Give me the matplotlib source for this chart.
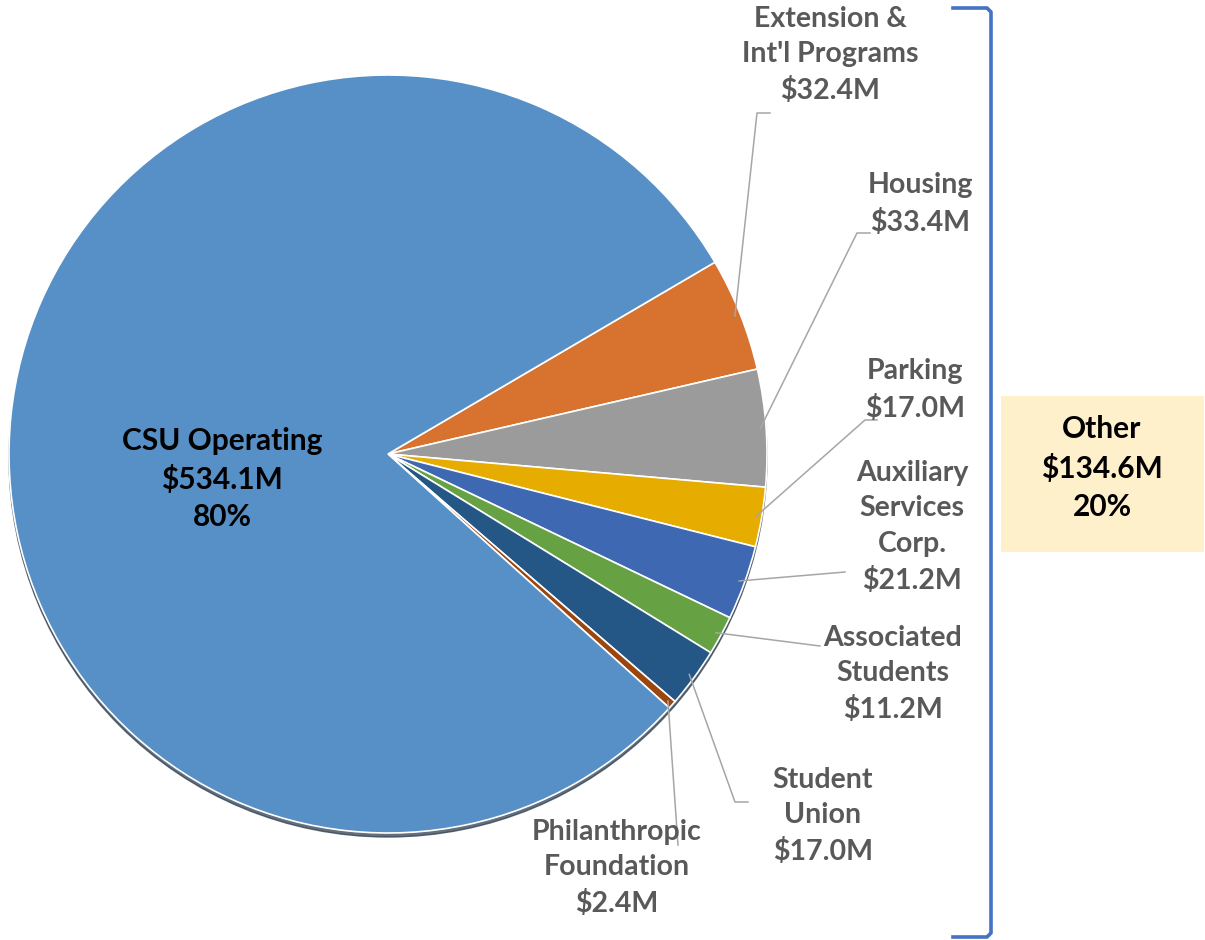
"""CSU budget pie: CSU Operating vs. the other funds"""

import numpy as np
import matplotlib.pyplot as plt
from matplotlib.patches import Rectangle, Circle

# Data (millions of dollars), in clockwise order starting at the top right
names = [
    "Extension &\nInt'l Programs",
    "Housing",
    "Parking",
    "Auxiliary\nServices\nCorp.",
    "Associated\nStudents",
    "Student\nUnion",
    "Philanthropic\nFoundation",
    "CSU Operating",
]
values = [32.4, 33.4, 17.0, 21.2, 11.2, 17.0, 2.4, 534.1]
colors = [
    "#D8722F", "#9B9B9B", "#E6AC00", "#3F68B3",
    "#66A143", "#245686", "#9C460F", "#5790C6",
]

W, H = 1205, 940
CX, CY, R = 388, H - 454, 379
START = 30.4

# label anchor (text centre) and elbow of each leader line, in pixels from top-left
label_xy = [(830, 55), (920, 204), (915, 390), (912, 527), (893, 674), (823, 816), (617, 868)]
elbow_xy = [(757, 113), (857, 233), (865, 420), (845, 572), (820, 646), (735, 802), (678, 845)]
tail_xy = [(770, 113), (870, 233), (877, 420), (845, 572), (820, 646), (748, 802), (678, 845)]

LABEL_GRAY = "#595959"
FONT = ["Lato", "DejaVu Sans"]

fig = plt.figure(figsize=(W / 100, H / 100), dpi=100)
ax = fig.add_axes([0, 0, 1, 1])

# soft shadow under the pie
ax.add_patch(Circle((CX, CY - 4), R, color="#2f3f50", alpha=0.75, zorder=0))

wedges, _ = ax.pie(
    values,
    colors=colors,
    startangle=START,
    counterclock=False,
    radius=R,
    center=(CX, CY),
    wedgeprops=dict(edgecolor="white", linewidth=1.2),
)
for w in wedges:
    w.set_zorder(1)

ax.set_xlim(0, W)
ax.set_ylim(0, H)
ax.set_aspect("equal")
ax.axis("off")

total = sum(values)

# leader lines and labels for the small slices
for i, w in enumerate(wedges[:-1]):
    mid = np.deg2rad((w.theta1 + w.theta2) / 2)
    sx = CX + R * 0.985 * np.cos(mid)
    sy = CY + R * 0.985 * np.sin(mid)
    ex, ey = elbow_xy[i]
    tx, ty = tail_xy[i]
    ax.plot([sx, ex, tx], [sy, H - ey, H - ty], color="#A6A6A6", lw=1.1, zorder=2)
    lx, ly = label_xy[i]
    ax.text(lx, H - ly, f"{names[i]}\n${values[i]:.1f}M", ha="center", va="center",
            fontsize=20.5, fontweight="bold", color=LABEL_GRAY, family=FONT,
            linespacing=1.46, zorder=3)

# main slice label
ax.text(222, H - 479, f"{names[-1]}\n${values[-1]:.1f}M\n{values[-1] / total:.0%}",
        ha="center", va="center", fontsize=21.5, fontweight="bold", color="black",
        family=FONT, linespacing=1.41, zorder=3)

# bracket grouping the other funds
bx, btop, bbot, hook = 991, 8, 937, 38
ax.plot([bx - hook, bx - 4, bx, bx, bx - 4, bx - hook],
        [H - btop, H - btop, H - btop - 4, H - bbot + 4, H - bbot, H - bbot],
        color="#4472C4", lw=2.6, solid_joinstyle="round", zorder=2)

other = total - values[-1]
ax.add_patch(Rectangle((1001, H - 552), 203, 156, facecolor="#FFF0CC", edgecolor="none", zorder=1))
ax.text(1102, H - 468, f"Other\n${other:.1f}M\n{other / total:.0%}", ha="center", va="center",
        fontsize=21.5, fontweight="bold", color="black", family=FONT, linespacing=1.43, zorder=3)

fig.savefig("out.png", dpi=100)
